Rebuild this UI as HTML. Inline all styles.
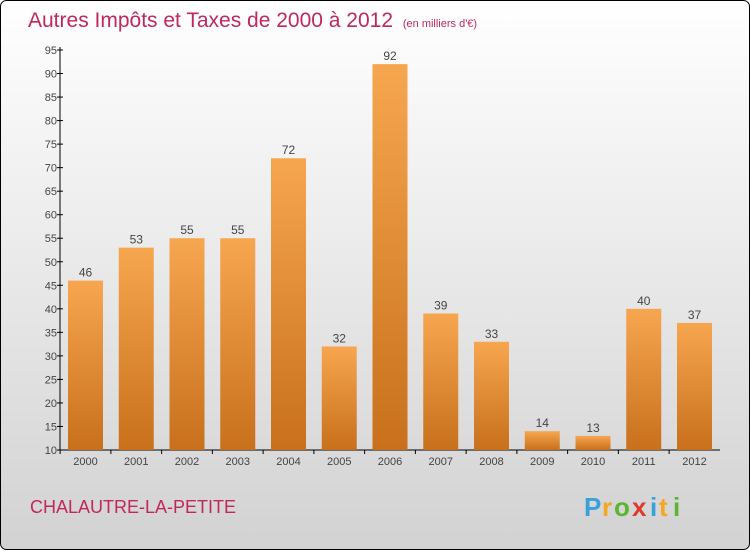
<!DOCTYPE html>
<html><head><meta charset="utf-8"><style>
html,body{margin:0;padding:0;}
body{width:750px;height:550px;overflow:hidden;font-family:"Liberation Sans",sans-serif;}
</style></head><body>
<svg width="750" height="550" xmlns="http://www.w3.org/2000/svg">
<defs>
<linearGradient id="bg" x1="0" y1="0" x2="0" y2="1"><stop offset="0" stop-color="#ffffff"/><stop offset="1" stop-color="#d2d2d2"/></linearGradient>
<linearGradient id="bar" x1="0" y1="0" x2="0" y2="1"><stop offset="0" stop-color="#f7a650"/><stop offset="1" stop-color="#c8701c"/></linearGradient>
</defs>
<rect x="0.5" y="0.5" width="749" height="549" rx="6" fill="url(#bg)" stroke="#000"/>
<text x="28" y="27" font-size="21" fill="#c0285a">Autres Impôts et Taxes de 2000 à 2012 <tspan font-size="11" dx="4">(en milliers d'€)</tspan></text>
<g id="axes"></g>
<g id="bars"></g>
<text x="30" y="513" font-size="18" fill="#c0285a">CHALAUTRE-LA-PETITE</text>
<g font-size="26" font-weight="bold">
<text x="584" y="516" fill="#3aa0dc">P</text><text x="602" y="516" fill="#f5a623">r</text><text x="614" y="516" fill="#5cb531">o</text><text x="632" y="516" fill="#e0382c">x</text><text x="650" y="516" fill="#3aa0dc">i</text><text x="659" y="516" fill="#f5a623">t</text><text x="673" y="516" fill="#5cb531">i</text>
</g>
</svg>
<script>
const years=["2000","2001","2002","2003","2004","2005","2006","2007","2008","2009","2010","2011","2012"];
const values=[46,53,55,55,72,32,92,39,33,14,13,40,37];
const ticks=[10,15,20,25,30,35,40,45,50,55,60,65,70,75,80,85,90,95];
const NS="http://www.w3.org/2000/svg";
const x0=60,x1=720,yb=450,yt=50,vmin=10,vmax=95;
const y=v=>yb-(v-vmin)*(yb-yt)/(vmax-vmin);
const step=50.75,bw=35;
const cx=i=>85.5+i*step;
function mk(tag,attrs,parent,txt){const e=document.createElementNS(NS,tag);for(const k in attrs)e.setAttribute(k,attrs[k]);if(txt!==undefined)e.textContent=txt;parent.appendChild(e);return e;}
const ax=document.getElementById('axes'),bg=document.getElementById('bars');
let l=mk('line',{x1:x0,y1:yt-3,x2:x0,y2:yb,stroke:'#000'},ax);


l=mk('line',{x1:x0,y1:yb,x2:x1,y2:yb,stroke:'#000'},ax);


ticks.forEach(t=>{
 mk('line',{x1:x0-3,y1:y(t),x2:x0+3,y2:y(t),stroke:'#000'},ax);
 const tx=mk('text',{x:x0-3,y:y(t)+4,'font-size':11,'text-anchor':'end',fill:'#444'},ax,t);
 
 
});
years.forEach((yr,i)=>{
 mk('line',{x1:cx(i)-step/2,y1:yb,x2:cx(i)-step/2,y2:yb+4,stroke:'#000'},ax);
 const tx=mk('text',{x:cx(i),y:yb+15,'font-size':11,'text-anchor':'middle',fill:'#444'},ax,yr);
 
 
 const r=mk('rect',{x:cx(i)-bw/2,y:y(values[i]),width:bw,height:yb-y(values[i]),fill:'url(#bar)'},bg);
 
 
 const lb=mk('text',{x:cx(i),y:y(values[i])-4,'font-size':12,'text-anchor':'middle',fill:'#444'},bg,values[i]);
 
 
});
</script>
</body></html>
